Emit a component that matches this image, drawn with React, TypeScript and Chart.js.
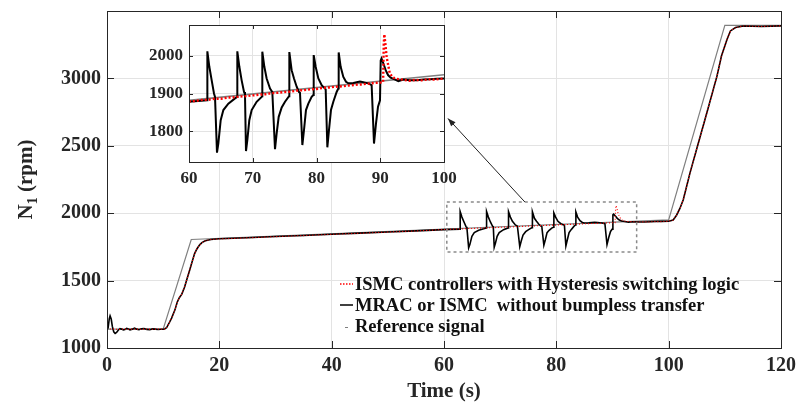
import React, { useEffect, useRef } from "react";
import { Chart, registerables } from "chart.js";

Chart.register(...registerables);

const FONT = "'Liberation Serif', 'Times New Roman', serif";
const TEXT = "#262626";

// ---------- data ----------
const seriesLabels = [
  "ISMC controllers with Hysteresis switching logic",
  "MRAC or ISMC  without bumpless transfer",
  "Reference signal",
];

const referenceSeries: [number, number][] = [
  [0, 1140], [10, 1140], [15, 1805], [100, 1950], [110, 3394], [120, 3394],
];

const mracSeries: [number, number][] = [
  [0, 1135], [0.2, 1150], [0.4, 1215], [0.55, 1238], [0.75, 1215], [0.95, 1160], [1.2, 1120], [1.45, 1108],
  [1.7, 1115], [2.0, 1132], [2.3, 1143], [2.6, 1140], [2.9, 1134], [3.2, 1138], [3.5, 1146], [3.8, 1141],
  [4.1, 1135], [4.5, 1140], [4.9, 1147], [5.3, 1140], [5.7, 1136], [6.1, 1142], [6.6, 1145], [7.1, 1138],
  [7.6, 1136], [8.1, 1142], [8.6, 1140], [9.1, 1137], [9.6, 1139], [10.2, 1140], [10.6, 1150], [11.0, 1180],
  [11.5, 1222], [12.1, 1283], [12.5, 1340], [12.9, 1375], [13.3, 1398], [13.8, 1450], [14.2, 1506], [14.7, 1575],
  [15.1, 1632], [15.6, 1700], [16.0, 1735], [16.5, 1765], [16.9, 1782], [17.5, 1795], [18.5, 1805], [20, 1810],
  [25, 1818], [30, 1827], [35, 1835], [40, 1844], [45, 1852], [50, 1861], [55, 1869], [60, 1878], [62.85, 1882],
  [62.88, 2012], [63.19, 1971], [63.56, 1935], [63.92, 1900], [64.08, 1891], [64.39, 1743], [64.6, 1767], [64.97, 1829],
  [65.39, 1856], [66.17, 1873], [67.22, 1887], [67.56, 1891],
  [67.58, 2012], [67.9, 1971], [68.26, 1935], [68.63, 1904], [68.78, 1898], [68.94, 1747], [69.15, 1776], [69.46, 1829],
  [69.83, 1856], [70.61, 1878], [71.4, 1891], [71.48, 1893],
  [71.5, 2011], [71.82, 1971], [72.18, 1940], [72.71, 1913], [73.07, 1904], [73.49, 1752], [73.75, 1794], [74.07, 1838],
  [74.54, 1863], [75.06, 1878], [75.69, 1893],
  [75.74, 2010], [76.1, 1962], [76.47, 1940], [76.89, 1918], [77.25, 1904], [77.41, 1902], [77.78, 1763], [78.04, 1803],
  [78.35, 1856], [78.72, 1873], [79.24, 1891], [79.5, 1896],
  [79.56, 2002], [79.87, 1971], [80.29, 1940], [80.81, 1922], [81.33, 1913], [81.44, 1911], [81.7, 1757], [81.96, 1803],
  [82.27, 1856], [82.64, 1878], [83.16, 1904], [83.42, 1913],
  [83.48, 2009], [83.79, 1971], [84.21, 1944], [84.63, 1931], [84.99, 1927], [85.78, 1928], [86.3, 1930], [86.82, 1932],
  [87.35, 1930], [88.13, 1927], [88.65, 1922], [89.02, 1767], [89.33, 1820], [89.65, 1865], [89.96, 1882], [90.07, 1988],
  [90.2, 1993], [90.59, 1975], [90.85, 1962], [91.22, 1949], [91.63, 1942], [92.16, 1938], [92.84, 1933], [93.62, 1937],
  [94.67, 1935], [95.71, 1935], [96.76, 1937], [97.8, 1938], [98.85, 1939], [100, 1940],
  [100.8, 1950], [101.4, 1985], [102.0, 2035], [102.6, 2100], [103.8, 2299], [105.3, 2522], [106.8, 2745], [108.6, 3017],
  [109.4, 3166], [110.4, 3290], [111.0, 3352], [111.9, 3377], [113.3, 3389], [116.5, 3385], [120, 3390],
];

const ismcSeries: [number, number][] = [
  [0, 1140], [1, 1142], [2, 1138], [3, 1141], [4, 1139], [5, 1141], [6, 1139], [7, 1141], [8, 1139], [9, 1141],
  [10.2, 1140], [10.6, 1150], [11.0, 1180], [11.5, 1222], [12.1, 1283], [12.5, 1340], [12.9, 1375], [13.3, 1398],
  [13.8, 1450], [14.2, 1506], [14.7, 1575], [15.1, 1632], [15.6, 1700], [16.0, 1735], [16.5, 1765], [16.9, 1782],
  [17.5, 1795], [18.5, 1805], [20, 1809], [25, 1817], [30, 1826], [35, 1834], [40, 1843], [45, 1851], [50, 1860],
  [55, 1868], [60, 1879], [61, 1880], [62, 1883], [63, 1883], [64, 1886], [65, 1886], [66, 1889], [67, 1890],
  [68, 1892], [69, 1893], [70, 1895], [71, 1897], [72, 1898], [73, 1901], [74, 1902], [75, 1904], [76, 1905],
  [77, 1908], [78, 1909], [79, 1911], [80, 1912], [81, 1915], [82, 1916], [83, 1918], [84, 1919], [85, 1921],
  [86, 1923], [87, 1924], [88, 1926], [89, 1928], [90, 1929], [90.45, 1930], [90.55, 2030], [90.64, 2057],
  [90.8, 2033], [91.0, 1997], [91.3, 1971], [91.5, 1953], [92.05, 1942], [92.6, 1939], [93.5, 1937], [94.5, 1934],
  [95.5, 1936], [96.5, 1935], [97.5, 1938], [98.5, 1937], [99.5, 1939], [100, 1940],
  [100.8, 1950], [101.4, 1985], [102.0, 2035], [102.6, 2100], [103.8, 2299], [105.3, 2522], [106.8, 2745], [108.6, 3017],
  [109.4, 3166], [110.4, 3290], [111.0, 3352], [111.9, 3377], [113.3, 3389], [116.5, 3385], [120, 3390],
];

const mainXTicks = [0, 20, 40, 60, 80, 100, 120];
const mainYTicks = [1000, 1500, 2000, 2500, 3000];
const mainXRange = [0, 120];
const mainYRange = [1000, 3500];
const insetXTicks = [60, 70, 80, 90, 100];
const insetYTicks = [1800, 1900, 2000];
const insetXRange = [60, 100];
const insetYRange = [1718, 2082];
const zoomBoxTime = [60.5, 94.3];
const zoomBoxRpm = [1712, 2083];
const arrowTime = [74.4, 60.7];
const arrowRpm = [2083, 2703];
const xTitle = "Time (s)";
const yTitleParts = ["N", "1", " (rpm)"];

// ---------- helpers ----------
const toPoints = (s: [number, number][]) => s.map(([x, y]) => ({ x, y }));

const boxTicksPlugin = {
  id: "boxTicks",
  afterDraw(chart: any, _args: any, opts: any) {
    const { ctx, chartArea: a, scales } = chart;
    const xs = scales.x;
    const ys = scales.y;
    const L = opts.len || 6;
    ctx.save();
    ctx.strokeStyle = opts.color || TEXT;
    ctx.lineWidth = 1;
    ctx.beginPath();
    for (const t of xs.ticks) {
      const px = Math.round(xs.getPixelForValue(t.value)) + 0.5;
      ctx.moveTo(px, a.bottom);
      ctx.lineTo(px, a.bottom - L);
      ctx.moveTo(px, a.top);
      ctx.lineTo(px, a.top + L);
    }
    for (const t of ys.ticks) {
      const py = Math.round(ys.getPixelForValue(t.value)) + 0.5;
      ctx.moveTo(a.left, py);
      ctx.lineTo(a.left + L, py);
      ctx.moveTo(a.right, py);
      ctx.lineTo(a.right - L, py);
    }
    ctx.stroke();
    ctx.strokeRect(
      Math.round(a.left) + 0.5,
      Math.round(a.top) + 0.5,
      Math.round(a.right - a.left),
      Math.round(a.bottom - a.top)
    );
    ctx.restore();
  },
};

const whiteAreaPlugin = {
  id: "whiteArea",
  beforeDraw(chart: any) {
    const { ctx, chartArea: a } = chart;
    ctx.save();
    ctx.fillStyle = "#ffffff";
    ctx.fillRect(a.left, a.top, a.right - a.left, a.bottom - a.top);
    ctx.restore();
  },
};

const annotationsPlugin = {
  id: "mainAnnotations",
  afterDraw(chart: any) {
    const { ctx, chartArea: a, scales } = chart;
    const xs = scales.x;
    const ys = scales.y;
    ctx.save();
    // zoom box
    const x0 = xs.getPixelForValue(zoomBoxTime[0]);
    const x1 = xs.getPixelForValue(zoomBoxTime[1]);
    const y0 = ys.getPixelForValue(zoomBoxRpm[1]);
    const y1 = ys.getPixelForValue(zoomBoxRpm[0]);
    ctx.strokeStyle = "#8a8a8a";
    ctx.lineWidth = 1.5;
    ctx.setLineDash([3, 3]);
    ctx.strokeRect(x0, y0, x1 - x0, y1 - y0);
    ctx.setLineDash([]);
    // arrow
    const ax0 = xs.getPixelForValue(arrowTime[0]);
    const ay0 = ys.getPixelForValue(arrowRpm[0]);
    const ax1 = xs.getPixelForValue(arrowTime[1]);
    const ay1 = ys.getPixelForValue(arrowRpm[1]);
    ctx.strokeStyle = "#222";
    ctx.fillStyle = "#222";
    ctx.lineWidth = 1;
    ctx.beginPath();
    ctx.moveTo(ax0, ay0);
    ctx.lineTo(ax1, ay1);
    ctx.stroke();
    const ang = Math.atan2(ay1 - ay0, ax1 - ax0);
    const hl = 8, hw = 3;
    ctx.beginPath();
    ctx.moveTo(ax1, ay1);
    ctx.lineTo(ax1 - hl * Math.cos(ang) + hw * Math.sin(ang), ay1 - hl * Math.sin(ang) - hw * Math.cos(ang));
    ctx.lineTo(ax1 - hl * Math.cos(ang) - hw * Math.sin(ang), ay1 - hl * Math.sin(ang) + hw * Math.cos(ang));
    ctx.closePath();
    ctx.fill();

    // legend
    const ds = chart.data.datasets;
    const lx = 340;
    const rows = [285, 306, 327];
    ctx.font = `bold 18.5px ${FONT}`;
    ctx.textBaseline = "middle";
    ctx.textAlign = "left";
    ds.forEach((d: any, i: number) => {
      const y = rows[i];
      ctx.save();
      ctx.strokeStyle = d.borderColor;
      ctx.lineWidth = i === 2 ? 1 : 1.5;
      ctx.setLineDash(i === 0 ? [1.5, 1.5] : []);
      ctx.beginPath();
      if (i === 2) {
        ctx.moveTo(lx + 5, y + 0.5);
        ctx.lineTo(lx + 8, y + 0.5);
      } else {
        ctx.moveTo(lx, y - 1);
        ctx.lineTo(lx + 13, y - 1);
      }
      ctx.stroke();
      ctx.restore();
      ctx.fillStyle = "#111";
      ctx.fillText(d.label, lx + 15, y);
    });

    // y title with subscript
    const cy = (a.top + a.bottom) / 2;
    const cx = 27;
    ctx.translate(cx, cy);
    ctx.rotate(-Math.PI / 2);
    ctx.fillStyle = TEXT;
    ctx.textBaseline = "middle";
    const big = `bold 21px ${FONT}`;
    const small = `bold 14px ${FONT}`;
    ctx.font = big;
    const w0 = ctx.measureText(yTitleParts[0]).width;
    const w2 = ctx.measureText(yTitleParts[2]).width;
    ctx.font = small;
    const w1 = ctx.measureText(yTitleParts[1]).width;
    let x = -(w0 + w1 + w2) / 2;
    ctx.font = big;
    ctx.fillText(yTitleParts[0], x, 0);
    x += w0;
    ctx.font = small;
    ctx.fillText(yTitleParts[1], x, 6);
    x += w1;
    ctx.font = big;
    ctx.fillText(yTitleParts[2], x, 0);
    ctx.restore();
  },
};

function buildDatasets(inset: boolean) {
  return [
    {
      label: seriesLabels[0],
      data: toPoints(ismcSeries),
      borderColor: "#ff0000",
      borderWidth: inset ? 2.4 : 1.1,
      borderDash: inset ? [2, 2] : [1, 2],
      pointRadius: 0,
      tension: 0,
    },
    {
      label: seriesLabels[1],
      data: toPoints(mracSeries),
      borderColor: "#000000",
      borderWidth: inset ? 2 : 1.6,
      pointRadius: 0,
      tension: 0,
    },
    {
      label: seriesLabels[2],
      data: toPoints(referenceSeries),
      borderColor: "#7f7f7f",
      borderWidth: inset ? 1.6 : 1.2,
      pointRadius: 0,
      tension: 0,
    },
  ];
}

export default function App() {
  const mainRef = useRef<HTMLCanvasElement>(null);
  const insetRef = useRef<HTMLCanvasElement>(null);

  useEffect(() => {
    const gridColor = "#e3e3e3";
    const main = new Chart(mainRef.current!, {
      type: "line",
      data: { datasets: buildDatasets(false) as any },
      options: {
        animation: false,
        responsive: false,
        layout: { padding: { top: 11, right: 19, left: 0, bottom: 0 } },
        plugins: {
          legend: { display: false },
          tooltip: { enabled: false },
          boxTicks: { len: 7, color: TEXT },
        } as any,
        scales: {
          x: {
            type: "linear",
            min: mainXRange[0],
            max: mainXRange[1],
            afterBuildTicks: (s: any) => {
              s.ticks = mainXTicks.map((v) => ({ value: v }));
            },
            afterFit: (s: any) => {
              s.height = 56;
              s.paddingLeft = 0;
              s.paddingRight = 0;
            },
            grid: { color: gridColor, drawTicks: false, lineWidth: 1 },
            border: { display: false },
            ticks: {
              padding: 6,
              maxRotation: 0,
              autoSkip: false,
              color: TEXT,
              font: { family: FONT, size: 20, weight: "bold" },
              callback: (v: any) => String(v),
            },
            title: {
              display: true,
              text: xTitle,
              color: TEXT,
              font: { family: FONT, size: 21, weight: "bold" },
              padding: { top: 0, bottom: 0 },
            },
          },
          y: {
            type: "linear",
            min: mainYRange[0],
            max: mainYRange[1],
            afterBuildTicks: (s: any) => {
              s.ticks = mainYTicks.map((v) => ({ value: v }));
            },
            afterFit: (s: any) => {
              s.width = 107;
              s.paddingTop = 0;
              s.paddingBottom = 0;
            },
            grid: { color: gridColor, drawTicks: false, lineWidth: 1 },
            border: { display: false },
            ticks: {
              padding: 6,
              autoSkip: false,
              color: TEXT,
              font: { family: FONT, size: 20, weight: "bold" },
              callback: (v: any) => String(v),
            },
          },
        },
      } as any,
      plugins: [boxTicksPlugin, annotationsPlugin],
    });

    const inset = new Chart(insetRef.current!, {
      type: "line",
      data: { datasets: buildDatasets(true) as any },
      options: {
        animation: false,
        responsive: false,
        layout: { padding: { top: 10, right: 16, left: 0, bottom: 0 } },
        plugins: {
          legend: { display: false },
          tooltip: { enabled: false },
          boxTicks: { len: 4, color: TEXT },
        } as any,
        scales: {
          x: {
            type: "linear",
            min: insetXRange[0],
            max: insetXRange[1],
            afterBuildTicks: (s: any) => {
              s.ticks = insetXTicks.map((v) => ({ value: v }));
            },
            afterFit: (s: any) => {
              s.height = 28;
              s.paddingLeft = 0;
              s.paddingRight = 0;
            },
            grid: { color: gridColor, drawTicks: false, lineWidth: 1 },
            border: { display: false },
            ticks: {
              padding: 6,
              maxRotation: 0,
              autoSkip: false,
              color: TEXT,
              font: { family: FONT, size: 17, weight: "bold" },
              callback: (v: any) => String(v),
            },
          },
          y: {
            type: "linear",
            min: insetYRange[0],
            max: insetYRange[1],
            afterBuildTicks: (s: any) => {
              s.ticks = insetYTicks.map((v) => ({ value: v }));
            },
            afterFit: (s: any) => {
              s.width = 49;
              s.paddingTop = 0;
              s.paddingBottom = 0;
            },
            grid: { color: gridColor, drawTicks: false, lineWidth: 1 },
            border: { display: false },
            ticks: {
              padding: 6,
              autoSkip: false,
              color: TEXT,
              font: { family: FONT, size: 17, weight: "bold" },
              callback: (v: any) => String(v),
            },
          },
        },
      } as any,
      plugins: [whiteAreaPlugin, boxTicksPlugin],
    });

    return () => {
      main.destroy();
      inset.destroy();
    };
  }, []);

  return (
    <div style={{ position: "fixed", left: 0, top: 0, width: 800, height: 404, background: "#fff" }}>
      <canvas ref={mainRef} width={800} height={404} style={{ position: "absolute", left: 0, top: 0 }} />
      <canvas ref={insetRef} width={320} height={175} style={{ position: "absolute", left: 140, top: 15 }} />
    </div>
  );
}
